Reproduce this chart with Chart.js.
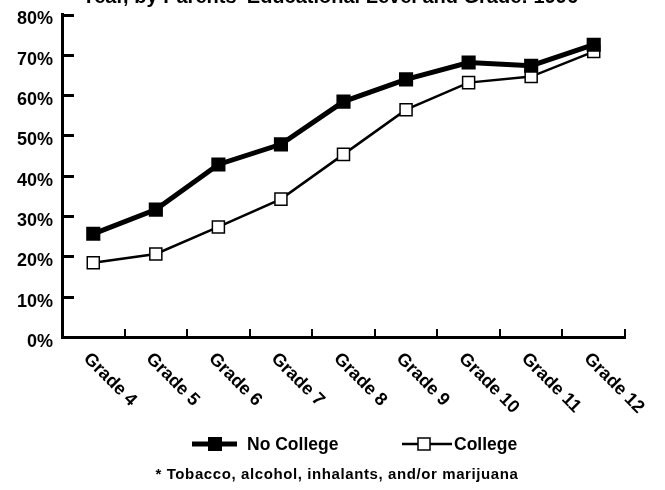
<!DOCTYPE html>
<html><head><meta charset="utf-8">
<style>html,body{margin:0;padding:0;background:#fff;} #wrap{width:665px;height:490px;position:relative;}</style>
<script src="https://cdn.jsdelivr.net/npm/chart.js"></script>
</head><body><div id="wrap"><canvas id="c" width="665" height="490"></canvas></div>
<script>
const categories = ['Grade 4','Grade 5','Grade 6','Grade 7','Grade 8','Grade 9','Grade 10','Grade 11','Grade 12'];
const noCollege = [25.6, 31.6, 42.8, 47.8, 58.4, 63.9, 68.1, 67.3, 72.5];
const college = [18.4, 20.6, 27.3, 34.2, 45.3, 56.4, 63.1, 64.6, 70.8];
const yTicks = [0, 10, 20, 30, 40, 50, 60, 70, 80];
const seriesNames = ['No College', 'College'];
const titleText = "Year, by Parents' Educational Level and Grade: 1996";
const footnote = "* Tobacco, alcohol, inhalants, and/or marijuana";

const FONT = "'Liberation Sans', Arial, Helvetica, sans-serif";

const deco = {
  id: 'deco',
  afterDraw(chart) {
    const {ctx, chartArea: a, scales: {x, y}} = chart;
    ctx.save();
    ctx.strokeStyle = '#000';
    ctx.fillStyle = '#000';
    // inward y ticks
    ctx.lineWidth = 3;
    yTicks.forEach(v => {
      if (v === 0) return;
      const py = Math.round(y.getPixelForValue(v)) + 0.5;
      ctx.beginPath(); ctx.moveTo(a.left, py); ctx.lineTo(a.left + 12, py); ctx.stroke();
    });
    // inward x ticks between categories
    ctx.lineWidth = 2;
    for (let i = 1; i <= categories.length; i++) {
      const px = Math.round(x.getPixelForValue(i - 0.5));
      ctx.beginPath(); ctx.moveTo(px, a.bottom); ctx.lineTo(px, a.bottom - 8); ctx.stroke();
    }
    // rotated category labels
    ctx.font = 'bold 18px ' + FONT;
    ctx.textAlign = 'left';
    ctx.textBaseline = 'middle';
    categories.forEach((c, i) => {
      const px = x.getPixelForValue(i);
      ctx.save();
      ctx.translate(px - 7, a.bottom + 19);
      ctx.rotate(Math.PI / 4);
      ctx.fillText(c, 0, 0);
      ctx.restore();
    });
    // title (cut off at top)
    ctx.font = 'bold 20px ' + FONT;
    ctx.textAlign = 'center';
    ctx.textBaseline = 'alphabetic';
    ctx.fillText(titleText, 330, 3);
    // legend
    const ds = chart.data.datasets;
    const legendY = 444;
    const items = [
      {x0: 192, x1: 237, mx: 215, size: 14, text: 247},
      {x0: 402, x1: 452, mx: 424, size: 12, text: 454}
    ];
    items.forEach((it, i) => {
      const d = ds[i];
      ctx.strokeStyle = d.borderColor;
      ctx.lineWidth = d.borderWidth;
      ctx.beginPath(); ctx.moveTo(it.x0, legendY); ctx.lineTo(it.x1, legendY); ctx.stroke();
      ctx.fillStyle = d.pointBackgroundColor;
      ctx.fillRect(it.mx - it.size / 2, legendY - it.size / 2, it.size, it.size);
      if (d.pointBorderWidth) {
        ctx.lineWidth = d.pointBorderWidth;
        ctx.strokeStyle = d.pointBorderColor;
        ctx.strokeRect(it.mx - it.size / 2, legendY - it.size / 2, it.size, it.size);
      }
      ctx.fillStyle = '#000';
      ctx.font = 'bold 17.5px ' + FONT;
      ctx.textAlign = 'left';
      ctx.textBaseline = 'middle';
      ctx.fillText(d.label, it.text, legendY + 1);
    });
    // footnote
    ctx.font = 'bold 15px ' + FONT;
    ctx.letterSpacing = '0.6px';
    ctx.textAlign = 'center';
    ctx.textBaseline = 'middle';
    ctx.fillText(footnote, 337, 475);
    ctx.restore();
  }
};

new Chart(document.getElementById('c'), {
  type: 'line',
  data: {
    labels: categories,
    datasets: [
      {
        label: seriesNames[0], data: noCollege,
        borderColor: '#000', borderWidth: 5, backgroundColor: '#000',
        pointStyle: 'rect', pointRadius: 10, pointBackgroundColor: '#000',
        pointBorderColor: '#000', pointBorderWidth: 0, tension: 0
      },
      {
        label: seriesNames[1], data: college,
        borderColor: '#000', borderWidth: 2.5, backgroundColor: '#fff',
        pointStyle: 'rect', pointRadius: 8.5, pointBackgroundColor: '#fff',
        pointBorderColor: '#000', pointBorderWidth: 1.5, tension: 0
      }
    ]
  },
  options: {
    responsive: false, animation: false, devicePixelRatio: 1,
    layout: { padding: { top: 14.5, bottom: 153, left: 0, right: 40 } },
    plugins: { legend: { display: false }, tooltip: { enabled: false }, title: { display: false } },
    scales: {
      x: {
        offset: true,
        afterFit: s => { s.height = 0; s.paddingLeft = 0; s.paddingRight = 0; },
        grid: { display: false, drawTicks: false },
        border: { display: true, color: '#000', width: 3 },
        ticks: { display: false }
      },
      y: {
        min: 0, max: 80,
        afterFit: s => { s.width = 62; s.paddingTop = 0; s.paddingBottom = 0; },
        grid: { display: false, drawTicks: false },
        border: { display: true, color: '#000', width: 3 },
        ticks: {
          stepSize: 10, color: '#000', padding: 9, labelOffset: 5,
          font: { family: FONT, size: 18, weight: 'bold' },
          callback: v => v + '%'
        }
      }
    }
  },
  plugins: [deco]
});
</script>
</body></html>
